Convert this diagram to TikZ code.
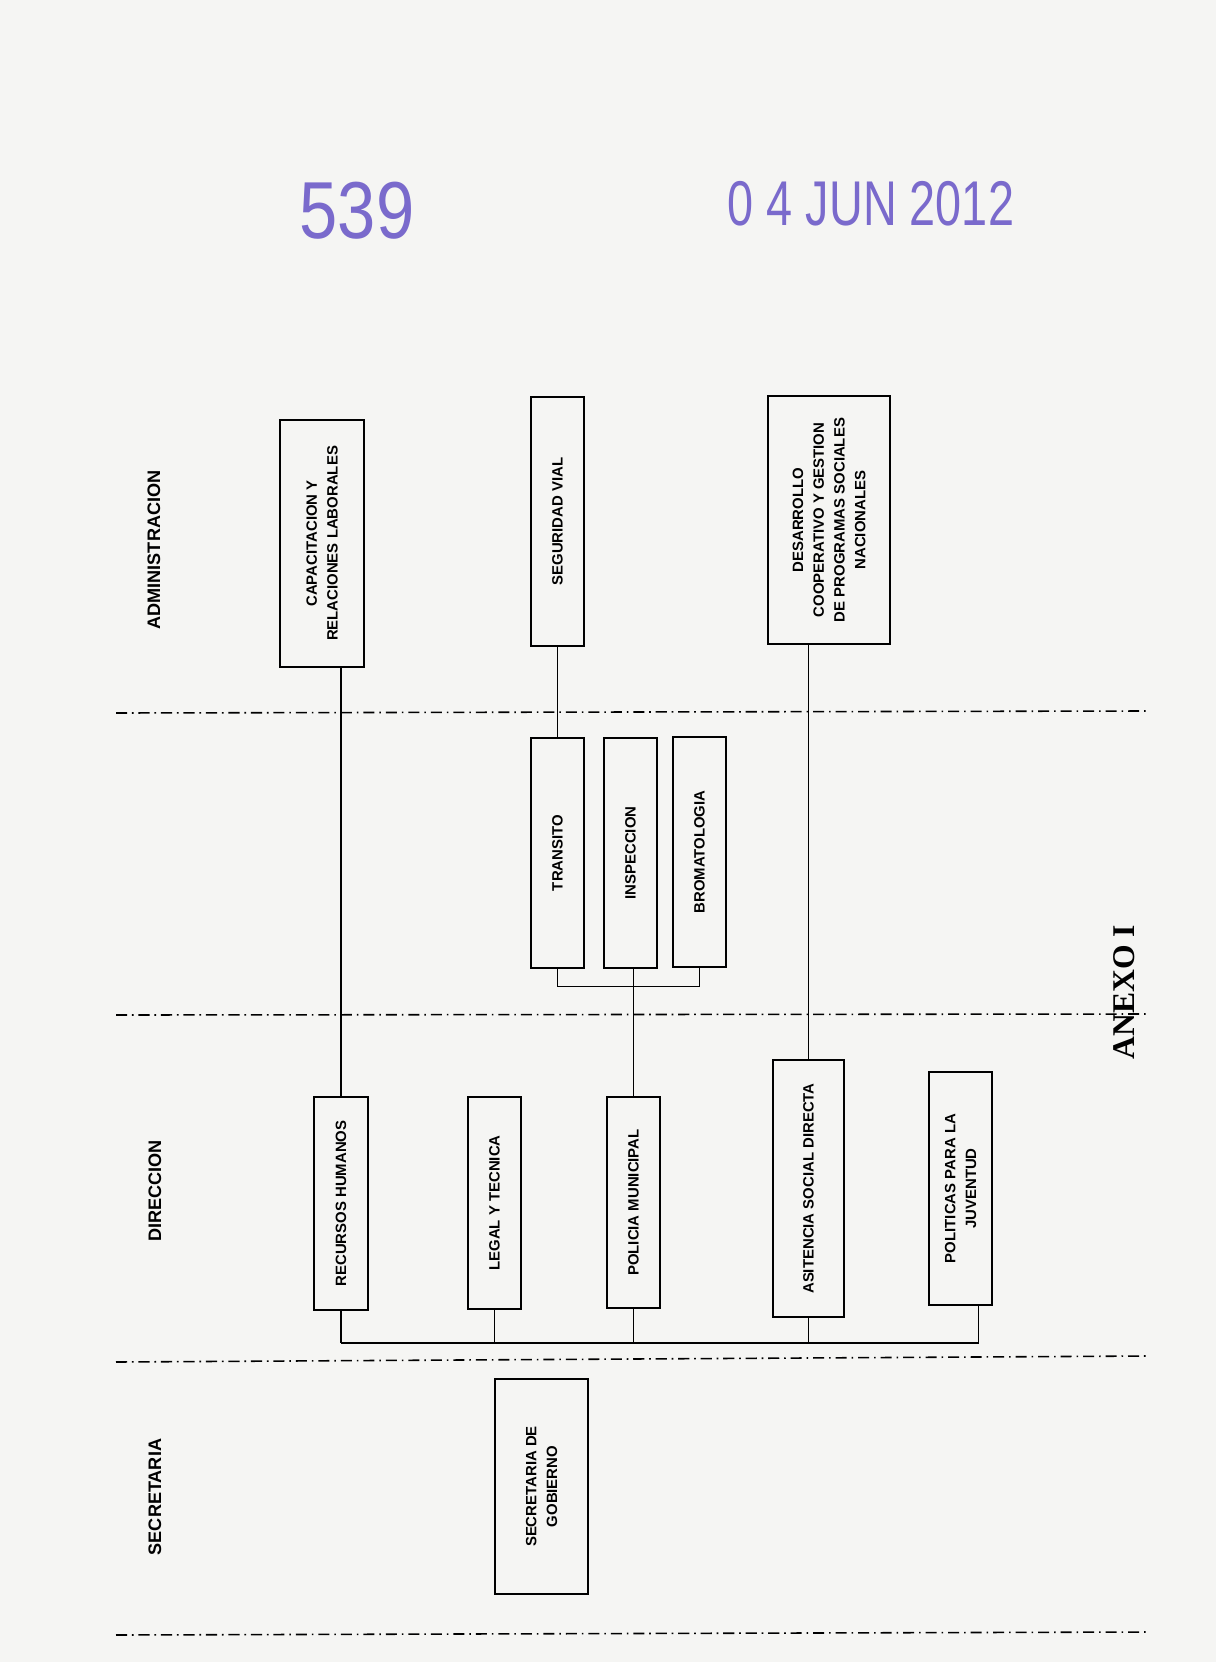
\documentclass[tikz,border=0pt]{standalone}
\usepackage{fontspec}
\setmainfont{Liberation Serif}
\setsansfont{Liberation Sans}
\usetikzlibrary{calc}
\definecolor{papel}{RGB}{245,245,243}
\definecolor{tinta}{RGB}{122,106,204}
\begin{document}
\begin{tikzpicture}[x=0.02cm, y=-0.02cm,
    unidad/.style 2 args={draw, line width=0.9pt, rotate=90, align=center, inner sep=2pt,
        minimum width=#1*0.02cm, minimum height=#2*0.02cm,
        font=\sffamily\bfseries\fontsize{8.5}{11.8}\selectfont},
    nivel/.style={rotate=90, font=\sffamily\bfseries\fontsize{10.3}{12}\selectfont},
    divisor/.style={line width=0.9pt, dash pattern=on 6.3pt off 2.8pt on 0.9pt off 2.8pt},
    enlace/.style={line width=0.7pt},
    sello/.style={text=tinta, font=\sffamily\fontsize{#1}{#1}\selectfont}]
    \useasboundingbox[fill=papel] (0,0) rectangle (1216,1662);
    %stamps
    \node[sello=46, xscale=0.85] (num) at (357,211) {539};
    \node[sello=36, xscale=0.74] (fecha) at (871,204) {0 4 JUN 2012};
    %dividing lines
    \foreach \yl/\yr in {713/711, 1015/1014, 1362/1356, 1635/1632}
        {%
            \draw[divisor] (116,\yl) -- (1147,\yr);
        }
    %levels
    \node[nivel] (adm) at (154,550) {ADMINISTRACION};
    \node[nivel] (dir) at (155,1191) {DIRECCION};
    \node[nivel] (sec) at (155,1497) {SECRETARIA};
    \node[rotate=90, font=\rmfamily\bfseries\fontsize{18}{18}\selectfont] (anexo) at (1124,992) {ANEXO I};
    %administracion
    \node[unidad={247}{84}] (cap) at (322,543.5) {CAPACITACION Y\\RELACIONES LABORALES};
    \node[unidad={249}{53}] (sv) at (557.5,521.5) {SEGURIDAD VIAL};
    \node[unidad={248}{122}] (des) at (829,520) {DESARROLLO\\COOPERATIVO Y GESTION\\DE PROGRAMAS SOCIALES\\NACIONALES};
    %middle row
    \node[unidad={230}{53}] (tra) at (557.5,853) {TRANSITO};
    \node[unidad={230}{53}] (ins) at (630.5,853) {INSPECCION};
    \node[unidad={230}{53}] (bro) at (699.5,852) {BROMATOLOGIA};
    %direccion
    \node[unidad={213}{54}] (rh) at (341,1203.5) {RECURSOS HUMANOS};
    \node[unidad={212}{53}] (lt) at (494.5,1203) {LEGAL Y TECNICA};
    \node[unidad={211}{53}] (pm) at (633.5,1202.5) {POLICIA MUNICIPAL};
    \node[unidad={257}{71}] (asd) at (808.5,1188.5) {ASITENCIA SOCIAL DIRECTA};
    \node[unidad={233}{63}] (pj) at (960.5,1188.5) {POLITICAS PARA LA\\JUVENTUD};
    %secretaria
    \node[unidad={215}{93}] (sg) at (541.5,1486.5) {SECRETARIA DE\\GOBIERNO};
    %draw lines
    \draw[enlace] (rh.east) -- (rh.east |- cap.west);
    \draw[enlace] (sv.west) -- (tra.east);
    \draw[enlace] (asd.east) -- (asd.east |- des.west);
    \draw[enlace] (tra.west) -- ++(0,18) -| (bro.west);
    \draw[enlace] (pm.east) -- (pm.east |- ins.west);
    \coordinate (bus) at (0,1343);
    \coordinate (pjd) at ($(pj.west)+(18,0)$);
    \foreach \n in {rh,lt,pm,asd}
        {%
            \draw[enlace] (\n.west) -- (\n.west |- bus);
        }
    \draw[enlace] (pjd) -- (pjd |- bus);
    \draw[enlace] (rh.west |- bus) -- (pjd |- bus);
\end{tikzpicture}
\end{document}
